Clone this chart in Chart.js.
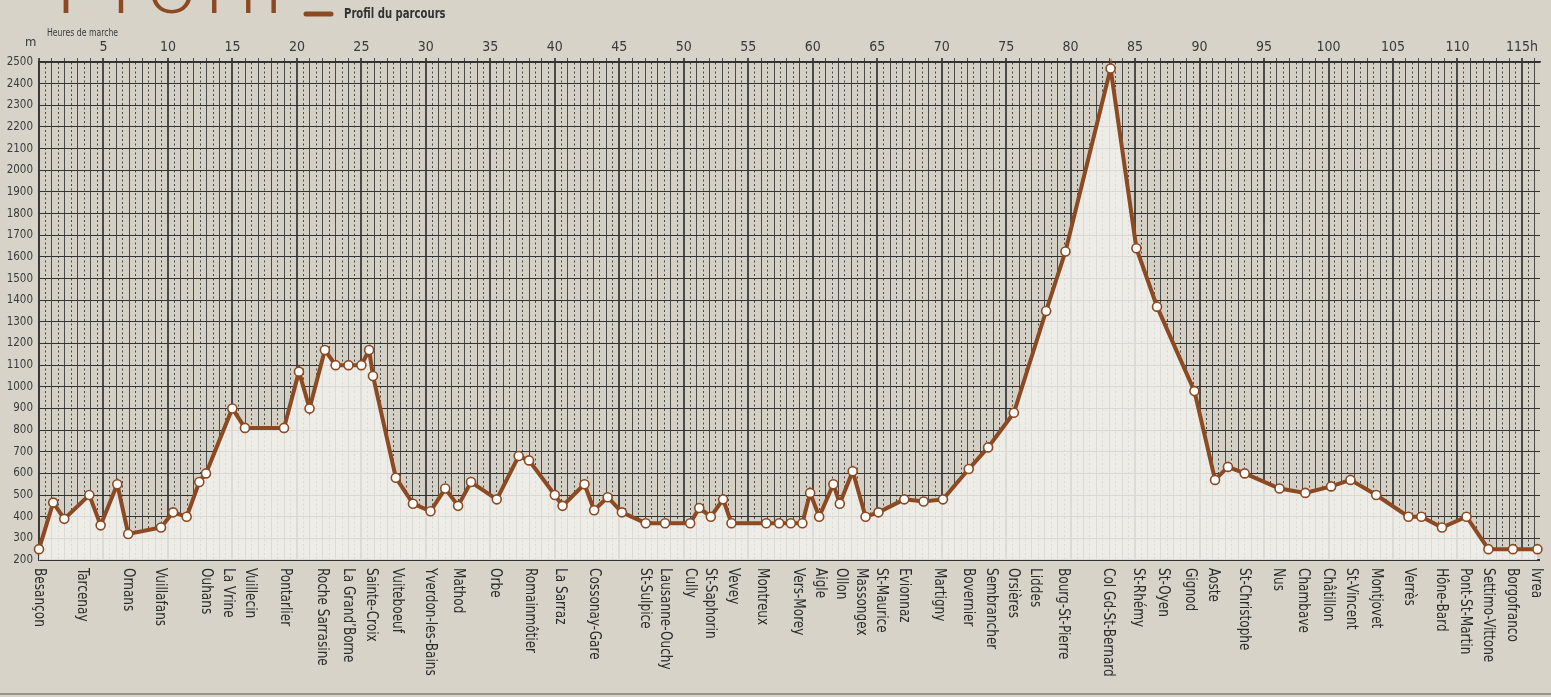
<!DOCTYPE html>
<html lang="fr">
<head>
<meta charset="utf-8">
<title>Profil du parcours</title>
<script src="https://cdn.jsdelivr.net/npm/chart.js@4/dist/chart.umd.min.js"></script>
<style>
  html, body { margin: 0; padding: 0; background: #d7d3c9; }
  #wrap { width: 1551px; height: 697px; }
</style>
</head>
<body>
<div id="wrap"><canvas id="profil" width="1551" height="697"></canvas></div>
<script>
// DATA (heures de marche / altitude en m)
const hours = [0, 1.1, 1.96, 3.9, 4.78, 6.07, 6.92, 9.46, 10.4, 11.45, 12.43, 12.95, 14.99, 15.97, 19, 20.16,
    20.98, 22.17, 23, 24, 25, 25.6, 25.9, 27.67, 29, 30.36, 31.5, 32.5, 33.5, 35.5, 37.2, 38, 40, 40.6, 42.3,
    43.05, 44.1, 45.2, 47.05, 48.55, 50.5, 51.2, 52.1, 53.05, 53.7, 56.4, 57.4, 58.3, 59.2, 59.8, 60.5, 61.6,
    62.1, 63.1, 64.1, 65.1, 67.1, 68.6, 70.1, 72.1, 73.6, 75.6, 78.1, 79.6, 83.1, 85.1, 86.7, 89.6, 91.2,
    92.2, 93.5, 96.2, 98.2, 100.2, 101.7, 103.7, 106.2, 107.2, 108.8, 110.7, 112.4, 114.3, 116.2];
const altitudes = [250, 465, 390, 500, 360, 550, 320, 350, 420, 400, 560, 600, 900, 810, 810, 1070,
    900, 1170, 1100, 1100, 1100, 1170, 1050, 580, 460, 425, 530, 450, 560, 480, 680, 660, 500, 450, 550,
    430, 490, 420, 370, 370, 370, 440, 400, 480, 370, 370, 370, 370, 370, 510, 400, 550,
    460, 610, 400, 420, 480, 470, 480, 620, 720, 880, 1350, 1625, 2470, 1640, 1370, 980, 570,
    630, 600, 530, 510, 540, 570, 500, 400, 400, 350, 400, 250, 250, 250];

// étapes nommées et leur position (heures)
const places = ["Besançon", "Tarcenay", "Ornans", "Vuillafans", "Ouhans", "La Vrine", "Vuillecin", "Pontarlier",
    "Roche Sarrasine", "La Grand’Borne", "Sainte-Croix", "Vuiteboeuf", "Yverdon-les-Bains", "Mathod", "Orbe",
    "Romainmôtier", "La Sarraz", "Cossonay-Gare", "St-Sulpice", "Lausanne-Ouchy", "Cully", "St-Saphorin",
    "Vevey", "Montreux", "Vers-Morey", "Aigle", "Ollon", "Massongex", "St-Maurice", "Evionnaz", "Martigny",
    "Bovernier", "Sembrancher", "Orsières", "Liddes", "Bourg-St-Pierre", "Col Gd-St-Bernard", "St-Rhémy",
    "St-Oyen", "Gignod", "Aoste", "St-Christophe", "Nus", "Chambave", "Châtillon", "St-Vincent", "Montjovet",
    "Verrès", "Hône-Bard", "Pont-St-Martin", "Settimo-Vittone", "Borgofranco", "Ivrea"];
const placeHours = [0, 3.31, 6.92, 9.38, 13.0, 14.63, 16.41, 19.07,
    21.99, 23.98, 25.79, 27.81, 30.31, 32.5, 35.35,
    38.06, 40.39, 43.02, 46.98, 48.53, 50.47, 52.02,
    53.82, 56.07, 58.86, 60.54, 62.22, 63.78, 65.33, 67.13, 69.84,
    72.04, 73.85, 75.53, 77.22, 79.46, 82.92, 85.23,
    87.2, 89.3, 91.06, 93.43, 96.12, 98.05, 99.98, 101.72, 103.69,
    106.23, 108.73, 110.57, 112.35, 114.24, 116.08];

const hourMax = 116.4;
const hourLabelStep = 5;
const altMin = 200, altMax = 2500, altStep = 100;

const brown = '#8b4a22';
const NARROW = '"Liberation Sans Narrow", "DejaVu Sans Condensed", "Arial Narrow", sans-serif';

// texte resserré (police condensée)
function narrowText(ctx, text, x, y, squeeze) {
    ctx.save();
    ctx.translate(x, y);
    ctx.scale(squeeze, 1);
    ctx.fillText(text, 0, 0);
    ctx.restore();
}

// fond du graphe, titre, légende et noms des étapes
const decor = {
    id: 'decor',
    beforeDraw(chart) {
        const { ctx, chartArea: a } = chart;
        ctx.save();
        ctx.fillStyle = '#d4d0c6';
        ctx.fillRect(a.left, a.top, a.right - a.left, a.bottom - a.top);
        ctx.restore();
    },
    afterDraw(chart) {
        const { ctx, chartArea: a } = chart;
        const xs = chart.scales.x;
        ctx.save();

        // titre (coupé en haut)
        ctx.fillStyle = brown;
        ctx.font = '300 92px Lato, sans-serif';
        ctx.textBaseline = 'alphabetic';
        ctx.letterSpacing = '5px';
        ctx.fillText('Profil', 54, 13);
        ctx.letterSpacing = '0px';

        // légende
        ctx.strokeStyle = brown;
        ctx.lineWidth = 5;
        ctx.lineCap = 'round';
        ctx.beginPath();
        ctx.moveTo(306, 14);
        ctx.lineTo(331, 14);
        ctx.stroke();
        ctx.fillStyle = '#333';
        ctx.font = 'bold 14px ' + NARROW;
        ctx.textBaseline = 'middle';
        narrowText(ctx, 'Profil du parcours', 344, 14, 0.8);

        // titres d'axes
        ctx.font = '10.5px ' + NARROW;
        ctx.fillStyle = '#3a3a3a';
        narrowText(ctx, 'Heures de marche', 47, 33, 0.82);
        ctx.font = '13px ' + NARROW;
        ctx.fillText('m', 25, 43);

        // noms des étapes
        ctx.fillStyle = '#2b2b2b';
        ctx.font = '16px ' + NARROW;
        places.forEach((name, i) => {
            const x = xs.getPixelForValue(placeHours[i]);
            ctx.save();
            ctx.translate(x, a.bottom + 8);
            ctx.rotate(Math.PI / 2);
            ctx.scale(0.84, 1);
            ctx.fillText(name, 0, 0);
            ctx.restore();
        });

        // filet du bas
        ctx.strokeStyle = '#9a958b';
        ctx.lineWidth = 2;
        ctx.lineCap = 'butt';
        ctx.beginPath();
        ctx.moveTo(0, 694);
        ctx.lineTo(1551, 694);
        ctx.stroke();
        ctx.restore();
    }
};

const isHalf = c => c.tick && c.tick.value % 1 !== 0;

new Chart(document.getElementById('profil'), {
    type: 'line',
    data: {
        datasets: [{
            label: 'Profil du parcours',
            data: hours.map((h, i) => ({ x: h, y: altitudes[i] })),
            borderColor: brown,
            borderWidth: 4,
            tension: 0,
            pointRadius: 4.5,
            pointBorderWidth: 1.6,
            pointBackgroundColor: '#ffffff',
            pointBorderColor: brown,
            fill: 'start',
            backgroundColor: 'rgba(241,239,235,0.88)',
            clip: false
        }]
    },
    options: {
        responsive: false,
        animation: false,
        devicePixelRatio: 1,
        layout: { padding: { left: 0, right: 11, top: 0, bottom: 137 } },
        plugins: { legend: { display: false }, tooltip: { enabled: false } },
        scales: {
            x: {
                type: 'linear',
                position: 'top',
                min: 0,
                max: hourMax,
                afterBuildTicks: s => {
                    s.ticks = [];
                    for (let v = 0; v <= hourMax; v += 0.5) s.ticks.push({ value: v });
                },
                afterFit: s => { s.height = 62; },
                ticks: {
                    autoSkip: false,
                    maxRotation: 0,
                    minRotation: 0,
                    padding: 2,
                    color: '#3a3a3a',
                    font: { family: NARROW, size: 14 },
                    callback: v => (v > 0 && v % hourLabelStep === 0) ? (v === 115 ? '115h' : String(v)) : ''
                },
                grid: {
                    color: c => isHalf(c) ? '#474747' : '#4a4a4a',
                    lineWidth: c => (c.tick && c.tick.value % 5 === 0) ? 2 : 1,
                    tickLength: 4,
                    tickColor: c => isHalf(c) ? 'rgba(0,0,0,0)' : '#4a4a4a'
                },
                border: {
                    color: '#333',
                    width: 1.5,
                    dash: c => isHalf(c) ? [2, 2.5] : []
                }
            },
            y: {
                min: altMin,
                max: altMax,
                afterFit: s => { s.width = 39; },
                ticks: {
                    stepSize: altStep,
                    padding: 6,
                    color: '#3a3a3a',
                    font: { family: NARROW, size: 11.5 },
                    callback: v => String(v)
                },
                grid: {
                    color: '#333',
                    lineWidth: c => (c.tick && c.tick.value === altMin) ? 2 : 1,
                    drawTicks: false
                },
                border: { color: '#333', width: 1.5 }
            }
        }
    },
    plugins: [decor]
});
</script>
</body>
</html>
